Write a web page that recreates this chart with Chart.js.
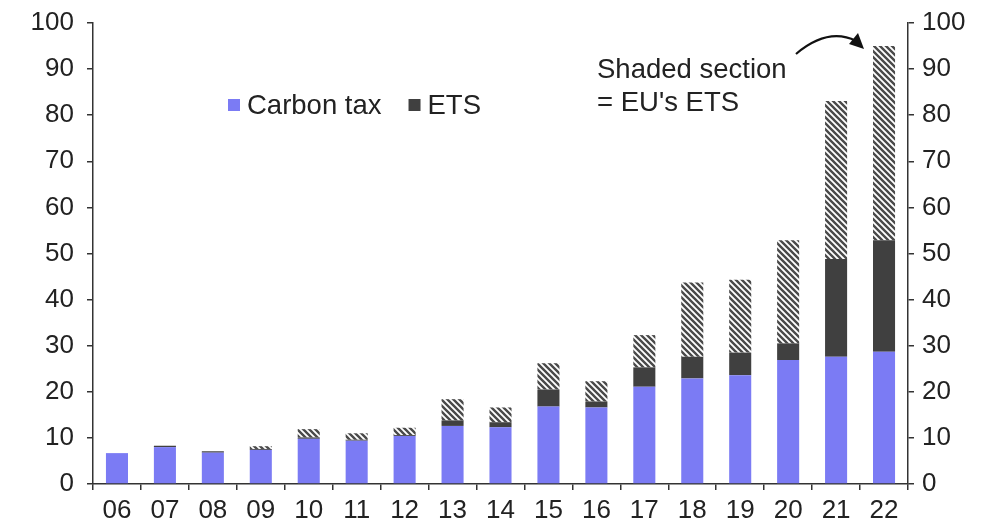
<!DOCTYPE html>
<html>
<head>
<meta charset="utf-8">
<script src="https://cdn.jsdelivr.net/npm/chart.js@4.4.1/dist/chart.umd.min.js"></script>
<style>
  html,body{margin:0;padding:0;background:#fff;}
  #wrap{width:981px;height:524px;}
</style>
</head>
<body>
<div id="wrap"><canvas id="c"></canvas></div>
<script>
// ===== DATA =====
const years     = ['06','07','08','09','10','11','12','13','14','15','16','17','18','19','20','21','22'];
const carbonTax = [6.7, 8.0, 6.8, 7.4, 9.8, 9.4, 10.4, 12.6, 12.3, 16.8, 16.6, 21.1, 22.9, 23.6, 26.9, 27.6, 28.7];
const ets       = [0,   0.3, 0.3, 0.2, 0.3, 0.2, 0.2,  1.2,  1.1,  3.7,  1.3,  4.2,  4.7,  4.9,  3.6, 21.2, 24.2];
const euEts     = [0,   0,   0,   0.6, 1.8, 1.4, 1.6,  4.6,  3.2,  5.7,  4.4,  7.0, 16.1, 15.8, 22.4, 34.3, 42.1];
const yTicks    = [0,10,20,30,40,50,60,70,80,90,100];

const FONT = '"Liberation Sans", Arial, sans-serif';
const INK  = '#222';
const BLUE = '#7b7bf4';
const DARK = '#404040';

// diagonal hatch for the EU ETS section
function hatch(){
  const c=document.createElement('canvas'); c.width=c.height=6;
  const g=c.getContext('2d');
  g.fillStyle='#fff'; g.fillRect(0,0,6,6);
  g.strokeStyle='#4a4a4a'; g.lineWidth=2.4;
  g.beginPath();
  g.moveTo(-1,-1); g.lineTo(7,7);
  g.moveTo(-1,5);  g.lineTo(1,7);
  g.moveTo(5,-1);  g.lineTo(7,1);
  g.stroke();
  return g.createPattern(c,'repeat');
}

// ===== LEGEND + NOTE =====
const overlay = {
  id:'overlay',
  afterDraw(chart){
    const {ctx, scales:{x,y}} = chart;
    ctx.save();
    ctx.font = '27.5px '+FONT;
    ctx.fillStyle = INK;
    ctx.textBaseline = 'middle';

    // legend: first two datasets only
    let lx = 228; const ly = 105;
    chart.data.datasets.slice(0,2).forEach(d=>{
      ctx.fillStyle = d.backgroundColor;
      ctx.fillRect(lx, ly-6, 12, 12);
      ctx.fillStyle = INK;
      ctx.fillText(d.label, lx+19, ly+1);
      lx += 19 + ctx.measureText(d.label).width + 27;
    });

    // note
    const nx = 597;
    ctx.fillText('Shaded section', nx, y.getPixelForValue(89.8));
    ctx.fillText("= EU's ETS", nx, y.getPixelForValue(82.6));

    // curved arrow towards the last bar
    const x0 = 796, y0 = 54;
    const x1 = x.getPixelForValue(years.length-1) - 22, y1 = 47;
    ctx.strokeStyle = '#111'; ctx.lineWidth = 2.2;
    ctx.beginPath();
    ctx.moveTo(x0, y0);
    ctx.quadraticCurveTo(828, 27, x1-6, y1-6);
    ctx.stroke();
    ctx.fillStyle = '#111';
    ctx.beginPath();
    ctx.moveTo(x1+2, y1+2);
    ctx.lineTo(x1-13, y1-3);
    ctx.lineTo(x1-4, y1-14);
    ctx.closePath(); ctx.fill();
    ctx.restore();
  }
};

// ===== CHART =====
const tickFont = {family:FONT, size:26};
const axisY = (pos, w, pad) => ({
  position:pos, min:0, max:100, stacked: pos==='left',
  afterBuildTicks: s => { s.ticks = yTicks.map(v=>({value:v})); },
  afterFit: s => { s.width = w; s.paddingTop = 0; s.paddingBottom = 0; },
  border:{display:true, color:'#333', width:1.5},
  grid:{drawOnChartArea:false, drawTicks:true, tickLength:6, color:'#333', lineWidth:1.5},
  ticks:{color:INK, font:tickFont, padding:pad}
});

new Chart(document.getElementById('c'), {
  type:'bar',
  data:{
    labels:years,
    datasets:[
      {label:'Carbon tax', data:carbonTax, backgroundColor:BLUE},
      {label:'ETS',        data:ets,       backgroundColor:DARK},
      {label:"EU's ETS",   data:euEts,     backgroundColor:hatch()}
    ]
  },
  options:{
    responsive:true, maintainAspectRatio:false, animation:false,
    layout:{padding:{top:23, left:0, right:0, bottom:0}},
    datasets:{bar:{categoryPercentage:1, barPercentage:0.46, borderWidth:0}},
    plugins:{legend:{display:false}, tooltip:{enabled:false}},
    scales:{
      x:{
        stacked:true,
        afterFit: s => { s.height = 40; },
        border:{display:true, color:'#333', width:1.5},
        grid:{drawOnChartArea:false, drawTicks:true, tickLength:6, color:'#333', lineWidth:1.5},
        ticks:{color:INK, font:tickFont, padding:5, maxRotation:0, autoSkip:false}
      },
      y:  axisY('left', 93, 13),
      y2: axisY('right', 73, 8)
    }
  },
  plugins:[overlay]
});
</script>
</body>
</html>
